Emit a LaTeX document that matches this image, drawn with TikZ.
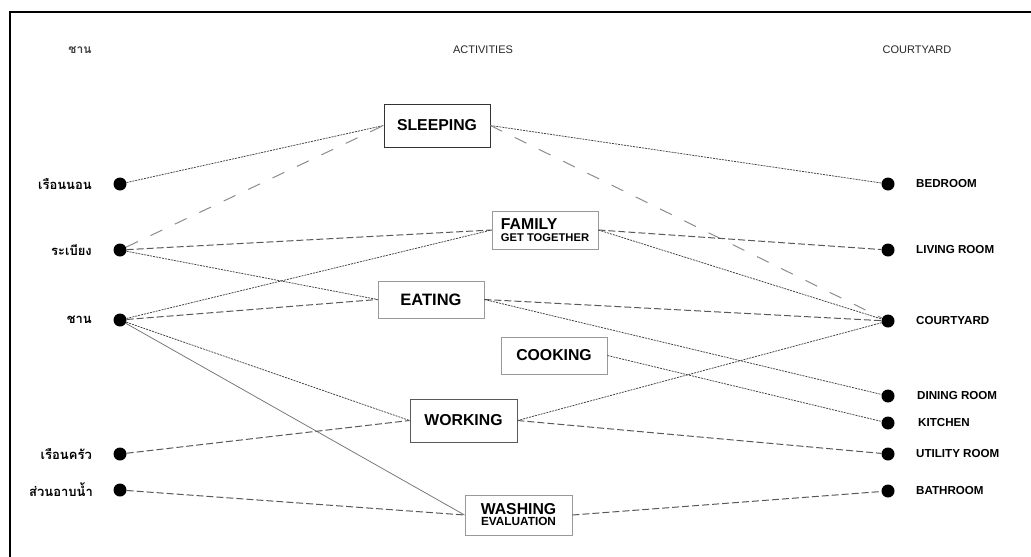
\documentclass[tikz,border=0pt]{standalone}
\usepackage{fontspec}
\setmainfont{Liberation Sans}
\newfontfamily\thaifont[Script=Thai]{Loma}
\begin{document}
\begin{tikzpicture}[x=1pt,y=-1pt,
  dot/.style={circle,fill=black,inner sep=0pt,minimum size=13pt},
  abox/.style={draw=gray!80,fill=white,line width=0.9pt,minimum width=106pt,inner sep=2pt,font=\bfseries\fontsize{15.8}{16}\selectfont},
  lefttxt/.style={anchor=east,inner sep=0pt,font=\thaifont\bfseries\fontsize{13}{14}\selectfont},
  righttxt/.style={anchor=west,inner sep=0pt,font=\bfseries\fontsize{11.6}{12}\selectfont},
  head/.style={inner sep=0pt,font=\fontsize{11}{12}\selectfont,text=black!85},
  fineln/.style={draw=black!75,line width=0.75pt,dash pattern=on 2pt off 1pt},
  dashln/.style={draw=black!65,line width=1pt,dash pattern=on 7pt off 3pt},
  looseln/.style={draw=black!45,line width=1pt,dash pattern=on 13pt off 14pt},
  plainln/.style={draw=black!55,line width=0.75pt}]
\useasboundingbox (0,0) rectangle (1031,557);
\draw[line width=2.8pt] (1031,12) -- (10,12) -- (10,557);
% headers
\node[head,font=\thaifont\bfseries\fontsize{12}{12}\selectfont,text=black!75] (hL) at (80,50) {ชาน};
\node[head] (hA) at (483,50) {ACTIVITIES};
\node[head] (hC) at (917,50) {COURTYARD};
% left dots
\node[dot] (L1) at (120,184) {};
\node[dot] (L2) at (120,250) {};
\node[dot] (L3) at (120,320) {};
\node[dot] (L4) at (120,454) {};
\node[dot] (L5) at (120,490) {};
\node[lefttxt] (tL1) at (92,184) {เรือนนอน};
\node[lefttxt] (tL2) at (92,250) {ระเบียง};
\node[lefttxt] (tL3) at (92,320) {ชาน};
\node[lefttxt] (tL4) at (92,454) {เรือนครัว};
\node[lefttxt] (tL5) at (93,490) {ส่วนอาบน้ำ};
% right dots
\node[dot] (R1) at (888,184) {};
\node[dot] (R2) at (888,250) {};
\node[dot] (R3) at (888,321) {};
\node[dot] (R4) at (888,396) {};
\node[dot] (R5) at (888,423) {};
\node[dot] (R6) at (888,454) {};
\node[dot] (R7) at (888,491) {};
\node[righttxt] (tR1) at (916,184) {BEDROOM};
\node[righttxt] (tR2) at (916,250) {LIVING ROOM};
\node[righttxt] (tR3) at (916,321) {COURTYARD};
\node[righttxt] (tR4) at (917,396) {DINING ROOM};
\node[righttxt] (tR5) at (918,423) {KITCHEN};
\node[righttxt] (tR6) at (916,454) {UTILITY ROOM};
\node[righttxt] (tR7) at (916,491) {BATHROOM};
% activity boxes
\node[abox,draw=black!80,minimum height=43pt] (sleep) at (437,125.5) {SLEEPING};
\node[abox,minimum height=38pt,align=left] (family) at (545,230) {FAMILY\\[-4pt]{\fontsize{11.2}{12}\selectfont GET TOGETHER}};
\node[abox,minimum height=37pt,font=\bfseries\fontsize{16.5}{17}\selectfont] (eat) at (431,299.5) {EATING};
\node[abox,minimum height=37pt] (cook) at (554,355.5) {COOKING};
\node[abox,draw=black!65,minimum height=43pt,minimum width=107pt] (work) at (463.5,420.5) {WORKING};
\node[abox,minimum height=40pt,minimum width=107pt,align=center] (wash) at (518.5,515) {WASHING\\[-5pt]{\fontsize{11.8}{12}\selectfont EVALUATION}};
% connectors left
\draw[fineln] (L1) -- (sleep.west);
\draw[looseln] (L2) -- (sleep.west);
\draw[dashln] (L2) -- (family.west);
\draw[fineln] (L2) -- (eat.west);
\draw[fineln] (L3) -- (family.west);
\draw[dashln] (L3) -- (eat.west);
\draw[fineln] (L3) -- (work.west);
\draw[plainln] (L3) -- (wash.west);
\draw[dashln] (L4) -- (work.west);
\draw[dashln] (L5) -- (wash.west);
% connectors right
\draw[fineln] (sleep.east) -- (R1);
\draw[looseln] (sleep.east) -- (R3);
\draw[dashln] (family.east) -- (R2);
\draw[fineln] (family.east) -- (R3);
\draw[dashln] (eat.east) -- (R3);
\draw[fineln] (eat.east) -- (R4);
\draw[fineln] (cook.east) -- (R5);
\draw[fineln] (work.east) -- (R3);
\draw[dashln] (work.east) -- (R6);
\draw[dashln] (wash.east) -- (R7);
\end{tikzpicture}
\end{document}
